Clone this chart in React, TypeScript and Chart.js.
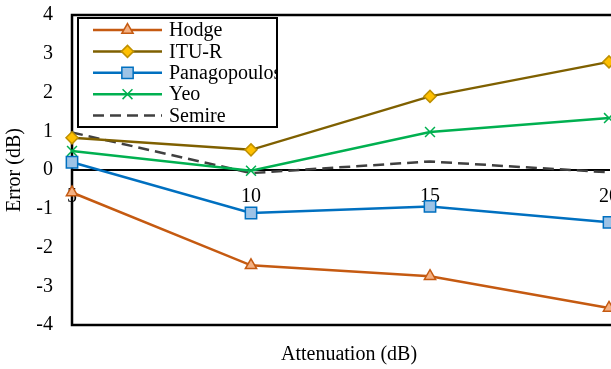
import React, { useEffect, useRef } from 'react';
import { Chart, registerables } from 'chart.js';
import { drawPoint } from 'chart.js/helpers';

Chart.register(...registerables);

const attenuation = [5, 10, 15, 20];
const hodge = [-0.58, -2.46, -2.74, -3.56];
const ituR = [0.83, 0.52, 1.9, 2.79];
const panagopoulos = [0.2, -1.11, -0.94, -1.35];
const yeo = [0.49, -0.02, 0.98, 1.34];
const semire = [0.97, -0.08, 0.22, -0.06];

const xTitle = 'Attenuation (dB)';
const yTitle = 'Error (dB)';

const FONT = '"Liberation Serif", "Times New Roman", serif';

const toPts = (vals: number[]) => vals.map((v, i) => ({ x: attenuation[i], y: v }));

const framePlugin = {
  id: 'frame',
  beforeDatasetsDraw(chart: any) {
    const { ctx, chartArea } = chart;
    ctx.save();
    ctx.strokeStyle = '#000';
    ctx.lineWidth = 2.5;
    ctx.strokeRect(chartArea.left, chartArea.top, chartArea.right + 20 - chartArea.left, chartArea.bottom - chartArea.top);
    ctx.restore();
  },
};

const legendPlugin = {
  id: 'boxLegend',
  afterDatasetsDraw(chart: any) {
    const { ctx, chartArea } = chart;
    const bx = chartArea.left + 6;
    const by = chartArea.top + 3;
    const bw = 199;
    const bh = 109;
    ctx.save();
    ctx.fillStyle = '#fff';
    ctx.fillRect(bx, by, bw, bh);
    ctx.save();
    ctx.beginPath();
    ctx.rect(bx, by, bw, bh);
    ctx.clip();
    chart.data.datasets.forEach((ds: any, i: number) => {
      const y = by + 12 + i * 21.4;
      const x0 = bx + 15;
      const x1 = bx + 84;
      ctx.beginPath();
      ctx.setLineDash(ds.borderDash || []);
      ctx.strokeStyle = ds.borderColor;
      ctx.lineWidth = ds.borderWidth;
      ctx.moveTo(x0, y);
      ctx.lineTo(x1, y);
      ctx.stroke();
      ctx.setLineDash([]);
      if (ds.pointRadius > 0) {
        ctx.fillStyle = ds.pointBackgroundColor;
        ctx.strokeStyle = ds.pointBorderColor;
        ctx.lineWidth = ds.pointBorderWidth;
        drawPoint(ctx, { pointStyle: ds.pointStyle, radius: ds.pointRadius, rotation: 0, borderWidth: ds.pointBorderWidth }, (x0 + x1) / 2, y);
      }
      ctx.fillStyle = '#000';
      ctx.font = `20px ${FONT}`;
      ctx.textBaseline = 'middle';
      ctx.textAlign = 'left';
      ctx.fillText(ds.label, bx + 91, y + 1);
    });
    ctx.restore();
    ctx.lineWidth = 2;
    ctx.strokeStyle = '#000';
    ctx.strokeRect(bx, by, bw, bh);
    // x axis title
    ctx.fillStyle = '#000';
    ctx.font = `20px ${FONT}`;
    ctx.textAlign = 'center';
    ctx.textBaseline = 'middle';
    ctx.fillText(xTitle, 349, 355);
    ctx.restore();
  },
};

export default function App() {
  const ref = useRef<HTMLCanvasElement | null>(null);

  useEffect(() => {
    if (!ref.current) return;
    const mk = (label: string, data: number[], color: string, style: any, radius: number, fill: string, border: string, dash?: number[]) => ({
      label,
      data: toPts(data),
      borderColor: color,
      backgroundColor: color,
      borderWidth: 2.5,
      borderDash: dash || [],
      pointStyle: style,
      pointRadius: radius,
      pointHoverRadius: radius,
      pointBackgroundColor: fill,
      pointBorderColor: border,
      pointBorderWidth: 1.5,
      tension: 0,
      clip: false,
    });
    const chart = new Chart(ref.current, {
      type: 'line',
      data: {
        datasets: [
          mk('Hodge', hodge, '#C55A11', 'triangle', 6.5, '#F4B183', '#C55A11'),
          mk('ITU-R', ituR, '#7F6000', 'rectRot', 6, '#FFC000', '#BF9000'),
          mk('Panagopoulos', panagopoulos, '#0070C0', 'rect', 8, '#9DC3E6', '#0070C0'),
          mk('Yeo', yeo, '#00B050', 'crossRot', 7, '#00B050', '#00B050'),
          mk('Semire', semire, '#404040', 'circle', 0, '#404040', '#404040', [11, 6]),
        ] as any,
      },
      plugins: [framePlugin, legendPlugin],
      options: {
        responsive: false,
        animation: false,
        layout: { padding: { left: 3, top: 15, right: 41, bottom: 44 } },
        plugins: { legend: { display: false }, tooltip: { enabled: false }, title: { display: false } },
        scales: {
          x: {
            type: 'linear',
            position: { y: 0 } as any,
            min: 5,
            max: 20,
            grid: { display: false, drawTicks: false },
            border: { display: true, color: '#000', width: 2 },
            ticks: { stepSize: 5, color: '#000', font: { family: FONT, size: 20 }, padding: 15, maxRotation: 0 },
          },
          y: {
            type: 'linear',
            min: -4,
            max: 4,
            grid: { display: false, drawTicks: false },
            border: { display: false },
            ticks: { stepSize: 1, color: '#000', font: { family: FONT, size: 20 }, padding: 19 },
            title: { display: true, text: yTitle, color: '#000', font: { family: FONT, size: 20 }, padding: 0 },
            afterFit: (scale: any) => {
              scale.width = 69;
              scale.paddingTop = 0;
              scale.paddingBottom = 0;
            },
          },
        },
      } as any,
    });
    return () => chart.destroy();
  }, []);

  return (
    <div style={{ position: 'fixed', left: 0, top: 0, width: 611, height: 369, overflow: 'hidden', background: '#fff' }}>
      <canvas ref={ref} width={650} height={369} style={{ display: 'block' }} />
    </div>
  );
}
